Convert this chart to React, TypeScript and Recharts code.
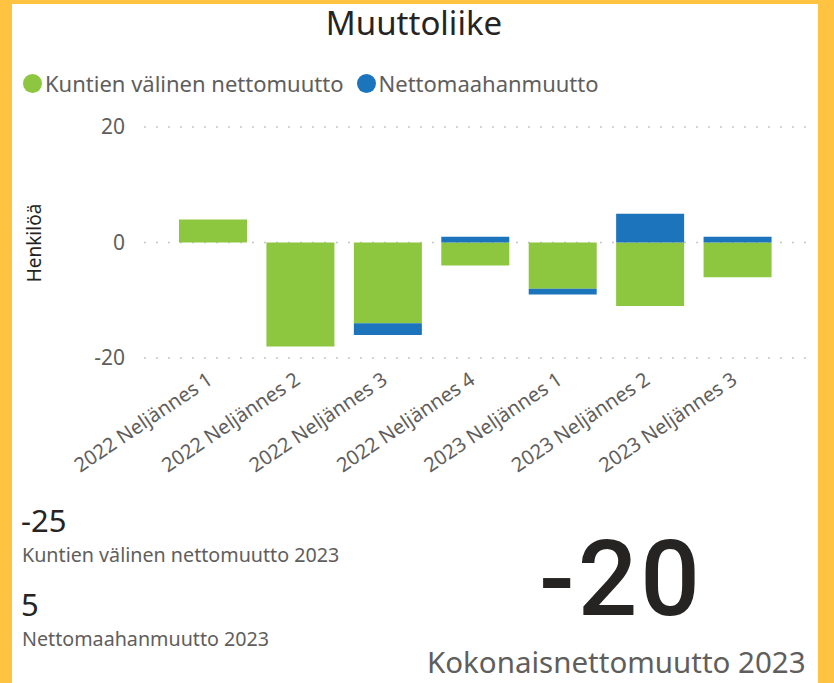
import { BarChart, Bar, XAxis, YAxis, CartesianGrid, Legend } from "recharts";

// quarterly net migration
const quarters = [
  "2022 Neljännes 1",
  "2022 Neljännes 2",
  "2022 Neljännes 3",
  "2022 Neljännes 4",
  "2023 Neljännes 1",
  "2023 Neljännes 2",
  "2023 Neljännes 3",
];
const kuntienValinen = [4, -18, -14, -4, -8, -11, -6];
const nettomaahanmuutto = [0, 0, -2, 1, -1, 5, 1];
const yTicks = [-20, 0, 20];

const GREEN = "#8DC63F";
const BLUE = "#1C75BC";
const YELLOW = "#FFC342";
const FONT = "'Segoe UI', 'Noto Sans', sans-serif";

const data = quarters.map((q, i) => ({
  name: q,
  kunnat: kuntienValinen[i],
  maahan: nettomaahanmuutto[i],
}));

const sum2023 = (arr: number[]) =>
  arr.reduce((acc, v, i) => (quarters[i].startsWith("2023") ? acc + v : acc), 0);
const kunnat2023 = sum2023(kuntienValinen);
const maahan2023 = sum2023(nettomaahanmuutto);
const total2023 = kunnat2023 + maahan2023;

function QuarterTick(props: any) {
  const { x, y, payload } = props;
  return (
    <g transform={`translate(${x - 6},${y + 6})`}>
      <text
        x={0}
        y={0}
        dy={13}
        textAnchor="end"
        transform="rotate(-34)"
        fill="#605E5C"
        fontSize={20}
        fontFamily={FONT}
      >
        {payload.value}
      </text>
    </g>
  );
}

function LegendContent(props: any) {
  const { payload } = props;
  return (
    <div style={{ display: "flex", alignItems: "center", height: 26, paddingBottom: 31, fontFamily: FONT }}>
      {payload.map((p: any) => (
        <div key={p.value} style={{ display: "flex", alignItems: "center", marginRight: 13 }}>
          <span
            style={{
              width: 19,
              height: 19,
              borderRadius: "50%",
              background: p.color,
              display: "inline-block",
              marginRight: 3,
            }}
          />
          <span style={{ fontSize: 22, color: "#605E5C" }}>{p.value}</span>
        </div>
      ))}
    </div>
  );
}

export default function App() {
  return (
    <div style={{ position: "absolute", left: 0, top: 0, width: 834, height: 683, background: YELLOW, overflow: "hidden" }}>
      <div style={{ position: "absolute", left: 12, top: 4, width: 806, height: 679, background: "#fff" }} />

      <div
        style={{
          position: "absolute",
          left: 0,
          width: 828,
          top: 0,
          textAlign: "center",
          fontFamily: FONT,
          fontSize: 33,
          color: "#252423",
        }}
      >
        Muuttoliike
      </div>

      <div
        style={{
          position: "absolute",
          left: 34,
          top: 243,
          transform: "translate(-50%, -50%) rotate(-90deg)",
          fontFamily: FONT,
          fontSize: 19,
          color: "#252423",
          whiteSpace: "nowrap",
        }}
      >
        Henkilöä
      </div>

      <div style={{ position: "absolute", left: 0, top: 0 }}>
        <BarChart
          width={834}
          height={480}
          data={data}
          stackOffset="sign"
          margin={{ top: 70, right: 26, bottom: 10, left: 24 }}
        >
          <CartesianGrid vertical={false} stroke="#c8c6c4" strokeDasharray="2 10" strokeWidth={1.5} />
          <XAxis
            dataKey="name"
            axisLine={false}
            tickLine={false}
            interval={0}
            height={112}
            padding={{ left: 25, right: 27 }}
            tick={<QuarterTick />}
          />
          <YAxis
            domain={[-20, 20]}
            ticks={yTicks}
            axisLine={false}
            tickLine={false}
            width={120}
            tick={{ fill: "#605E5C", fontSize: 21, fontFamily: FONT }}
            tickMargin={13}
          />
          <Legend
            verticalAlign="top"
            align="left"
            content={<LegendContent />}
            wrapperStyle={{ left: 23 }}
          />
          <Bar dataKey="kunnat" name="Kuntien välinen nettomuutto" stackId="a" fill={GREEN} barSize={68} isAnimationActive={false} />
          <Bar dataKey="maahan" name="Nettomaahanmuutto" stackId="a" fill={BLUE} barSize={68} isAnimationActive={false} />
        </BarChart>
      </div>

      <div style={{ position: "absolute", left: 21, top: 499, fontFamily: FONT, color: "#252423", fontSize: 31 }}>
        {kunnat2023}
      </div>
      <div style={{ position: "absolute", left: 22, top: 541, fontFamily: FONT, color: "#605E5C", fontSize: 19.7 }}>
        Kuntien välinen nettomuutto 2023
      </div>
      <div style={{ position: "absolute", left: 21, top: 583, fontFamily: FONT, color: "#252423", fontSize: 31 }}>
        {maahan2023}
      </div>
      <div style={{ position: "absolute", left: 22, top: 625, fontFamily: FONT, color: "#605E5C", fontSize: 19.7 }}>
        Nettomaahanmuutto 2023
      </div>

      <div
        style={{
          position: "absolute",
          left: 539,
          top: 515,
          fontFamily: "Roboto, sans-serif",
          fontWeight: 500,
          color: "#252423",
          fontSize: 105,
          lineHeight: "130px",
          letterSpacing: 3,
          whiteSpace: "nowrap",
        }}
      >
        {total2023}
      </div>
      <div
        style={{
          position: "absolute",
          left: 427,
          top: 641,
          fontFamily: FONT,
          color: "#605E5C",
          fontSize: 29.5,
          whiteSpace: "nowrap",
        }}
      >
        Kokonaisnettomuutto 2023
      </div>
    </div>
  );
}
